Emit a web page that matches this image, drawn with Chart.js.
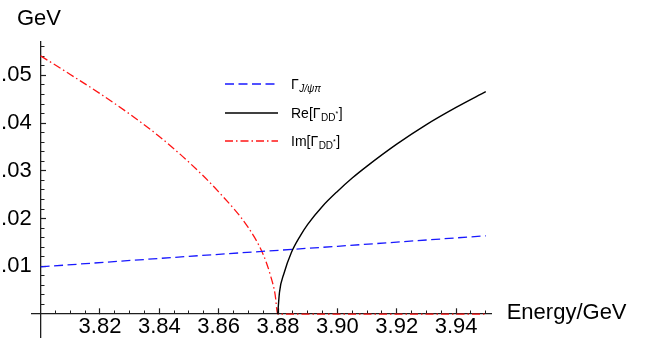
<!DOCTYPE html>
<html>
<head>
<meta charset="utf-8">
<script src="https://cdn.jsdelivr.net/npm/chart.js@4/dist/chart.umd.min.js"></script>
<style>
html,body{margin:0;padding:0;background:#fff;overflow:hidden}
#wrap{width:651px;height:339px;position:relative}
</style>
</head>
<body>
<div id="wrap"><canvas id="c" width="651" height="339"></canvas></div>
<script>
// ---- data ----
const blueEnergy = [3.80, 3.85, 3.90, 3.95];
const blueWidth  = [0.0099, 0.0121, 0.0142, 0.0164];

const reEnergy = [3.8799, 3.8805, 3.882, 3.8845, 3.8875, 3.89, 3.895, 3.90, 3.905, 3.91, 3.92, 3.93, 3.94, 3.95];
const reWidth  = [0, 0.0046, 0.0085, 0.0129, 0.0164, 0.0188, 0.0226, 0.0257, 0.0285, 0.0310, 0.0356, 0.0397, 0.0433, 0.0466];

const imEnergy = [3.80, 3.81, 3.82, 3.83, 3.84, 3.85, 3.86, 3.87, 3.875, 3.8775, 3.879, 3.8799, 3.90, 3.92, 3.95];
const imWidth  = [0.0541, 0.0502, 0.0462, 0.0419, 0.0372, 0.0318, 0.0256, 0.0181, 0.0125, 0.0080, 0.0042, 0, 0, 0, 0];

const xTickValues = [3.82, 3.84, 3.86, 3.88, 3.90, 3.92, 3.94];
const xTickLabels = ['3.82', '3.84', '3.86', '3.88', '3.90', '3.92', '3.94'];
const xMinorTicks = [3.805, 3.81, 3.815, 3.82, 3.825, 3.83, 3.835, 3.84, 3.845, 3.85, 3.855, 3.86, 3.865, 3.87, 3.875,
                     3.88, 3.885, 3.89, 3.895, 3.90, 3.905, 3.91, 3.915, 3.92, 3.925, 3.93, 3.935, 3.94, 3.945, 3.95];
const yTickValues = [0.01, 0.02, 0.03, 0.04, 0.05];
const yTickLabels = ['.01', '.02', '.03', '.04', '.05'];
const yMinorTicks = [0.002, 0.004, 0.006, 0.008, 0.010, 0.012, 0.014, 0.016, 0.018, 0.020, 0.022, 0.024, 0.026, 0.028,
                     0.030, 0.032, 0.034, 0.036, 0.038, 0.040, 0.042, 0.044, 0.046, 0.048, 0.050, 0.052, 0.054, 0.056];

const xAxisTitle = 'Energy/GeV';
const yAxisTitle = 'GeV';
const legendMain = ['\u0393', 'Re[\u0393', 'Im[\u0393'];
const legendSub  = ['J/\u03C8\u03C0', 'DD', 'DD'];
const legendSup  = ['', '*', '*'];
const legendTail = ['', ']', ']'];

const xRange = [3.797, 3.952];
const yRange = [-0.0048, 0.057];

// ---- helpers ----
const pts = (xs, ys) => xs.map((x, i) => ({x: x, y: ys[i]}));
const FONT = '"Liberation Sans", Arial, Helvetica, sans-serif';
const AXIS = '#1e1e1e';

const annot = {
  id: 'annot',
  afterDraw(chart) {
    const ctx = chart.ctx;
    const xs = chart.scales.x, ys = chart.scales.y;
    ctx.save();
    ctx.fillStyle = '#000';
    ctx.textAlign = 'left';
    ctx.textBaseline = 'middle';
    ctx.font = '22px ' + FONT;
    ctx.fillText(xAxisTitle, xs.right + 15, ys.getPixelForValue(0) - 1);
    ctx.fillText(yAxisTitle, 17, 19);

    // legend
    const rows = [84, 113, 141];
    const x0 = 225, x1 = 278, tx = 291;
    chart.data.datasets.forEach((ds, i) => {
      const y = rows[i];
      ctx.save();
      ctx.strokeStyle = ds.borderColor;
      ctx.lineWidth = ds.borderWidth;
      ctx.setLineDash(ds.borderDash || []);
      ctx.beginPath();
      ctx.moveTo(x0, y);
      ctx.lineTo(x1, y);
      ctx.stroke();
      ctx.restore();

      ctx.textBaseline = 'alphabetic';
      const base = y + 5;
      let cx = tx;
      ctx.font = '14px ' + FONT;
      ctx.fillText(legendMain[i], cx, base);
      cx += ctx.measureText(legendMain[i]).width + 0.5;
      ctx.font = (i === 0 ? 'italic ' : '') + '10px ' + FONT;
      ctx.fillText(legendSub[i], cx, base + 3);
      cx += ctx.measureText(legendSub[i]).width;
      if (legendSup[i]) {
        ctx.font = '7px ' + FONT;
        ctx.fillText(legendSup[i], cx, base - 2);
        cx += ctx.measureText(legendSup[i]).width + 0.5;
      }
      if (legendTail[i]) {
        ctx.font = '14px ' + FONT;
        ctx.fillText(legendTail[i], cx, base);
      }
    });
    ctx.restore();
  }
};

const setTicks = (values) => (scale) => { scale.ticks = values.map(v => ({value: v})); };

new Chart(document.getElementById('c'), {
  type: 'line',
  data: {
    datasets: [
      {
        label: 'Gamma J/psi pi',
        data: pts(blueEnergy, blueWidth),
        borderColor: 'rgb(25,25,255)',
        borderWidth: 1.3,
        borderDash: [9, 4.5],
        pointRadius: 0,
        tension: 0,
        fill: false
      },
      {
        label: 'Re[Gamma DD*]',
        data: pts(reEnergy, reWidth),
        borderColor: '#000',
        borderWidth: 1.4,
        pointRadius: 0,
        cubicInterpolationMode: 'monotone',
        fill: false
      },
      {
        label: 'Im[Gamma DD*]',
        data: pts(imEnergy, imWidth),
        borderColor: 'rgb(255,20,20)',
        borderWidth: 1.3,
        borderDash: [8, 3, 1.5, 3],
        pointRadius: 0,
        cubicInterpolationMode: 'monotone',
        fill: false
      }
    ]
  },
  options: {
    responsive: false,
    animation: false,
    devicePixelRatio: 1,
    layout: {padding: {left: 31.7, right: 159.3, top: 42, bottom: 2}},
    plugins: {legend: {display: false}, tooltip: {enabled: false}, title: {display: false}},
    scales: {
      x: {
        type: 'linear', axis: 'x', position: {y: 0},
        min: xRange[0], max: xRange[1],
        afterBuildTicks: setTicks(xTickValues),
        ticks: {
          callback: (v, i) => xTickLabels[i],
          font: {family: FONT, size: 22},
          color: '#000',
          padding: 6,
          maxRotation: 0, autoSkip: false
        },
        grid: {display: true, drawOnChartArea: false, drawTicks: true, tickLength: -6, tickWidth: 1.2, tickColor: AXIS},
        border: {display: true, color: AXIS, width: 1.3}
      },
      xMinor: {
        type: 'linear', axis: 'x', position: {y: 0},
        min: xRange[0], max: xRange[1],
        afterBuildTicks: setTicks(xMinorTicks),
        ticks: {display: false, autoSkip: false},
        grid: {display: true, drawOnChartArea: false, drawTicks: true, tickLength: -3.5, tickWidth: 1, tickColor: AXIS},
        border: {display: false}
      },
      y: {
        type: 'linear', axis: 'y', position: {x: 3.80},
        min: yRange[0], max: yRange[1],
        afterBuildTicks: setTicks(yTickValues),
        ticks: {display: false, autoSkip: false},
        grid: {display: true, drawOnChartArea: false, drawTicks: true, tickLength: -6, tickWidth: 1.2, tickColor: AXIS},
        border: {display: true, color: AXIS, width: 1.3}
      },
      yMinor: {
        type: 'linear', axis: 'y', position: {x: 3.80},
        min: yRange[0], max: yRange[1],
        afterBuildTicks: setTicks(yMinorTicks),
        ticks: {display: false, autoSkip: false},
        grid: {display: true, drawOnChartArea: false, drawTicks: true, tickLength: -3.5, tickWidth: 1, tickColor: AXIS},
        border: {display: false}
      },
      yLabels: {
        type: 'linear', axis: 'y', position: {x: xRange[0]},
        min: yRange[0], max: yRange[1],
        afterBuildTicks: setTicks(yTickValues),
        ticks: {
          callback: (v, i) => yTickLabels[i],
          font: {family: FONT, size: 22, lineHeight: 0.1},
          color: '#000',
          padding: 0,
          autoSkip: false
        },
        grid: {display: false},
        border: {display: false}
      }
    }
  },
  plugins: [annot]
});
</script>
</body>
</html>
